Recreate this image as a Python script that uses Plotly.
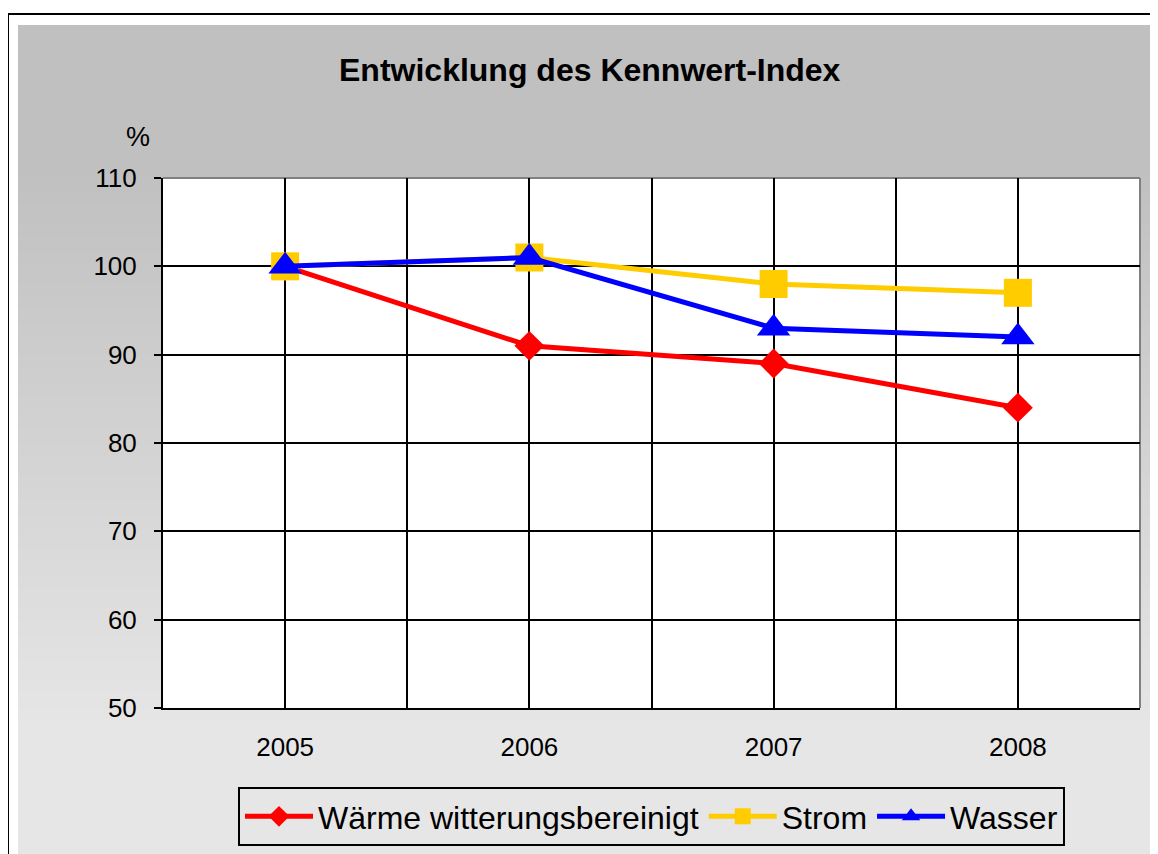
import plotly.graph_objects as go

years = ["2005", "2006", "2007", "2008"]
waerme = [100, 91, 89, 84]
strom = [100, 101, 98, 97]
wasser = [100, 101, 93, 92]
y_ticks = [50, 60, 70, 80, 90, 100, 110]

OFF = 8  # browser body margin
W, H = 1158 - OFF, 854 - OFF
L, R, T, B = 163, 1140, 178, 708  # plot area in screen pixels

def px(x):
    return (x - L) / (R - L)

def py(y):
    return (B - y) / (B - T)

FONT = "Liberation Sans, Arial, sans-serif"
xs = list(range(len(years)))

fig = go.Figure()
fig.add_trace(go.Scatter(x=xs, y=waerme, name="Wärme witterungsbereinigt", mode="lines+markers",
                         line=dict(color="#ff0000", width=5),
                         marker=dict(symbol="diamond", size=23, color="#ff0000", line=dict(width=0))))
fig.add_trace(go.Scatter(x=xs, y=strom, name="Strom", mode="lines+markers",
                         line=dict(color="#ffcc00", width=5),
                         marker=dict(symbol="square", size=28, color="#ffcc00", line=dict(width=0))))
fig.add_trace(go.Scatter(x=xs, y=wasser, name="Wasser", mode="lines+markers",
                         line=dict(color="#0000ff", width=5),
                         marker=dict(symbol="triangle-up", size=29, color="#0000ff", line=dict(width=0))))

shapes = []
# gradient background bands
y0, y1 = 25, 860
step = 6
yy = y0
while yy < y1:
    mid = yy + step / 2
    if mid < 170:
        c = 192
    elif mid > 730:
        c = 230
    else:
        c = 192 + (230 - 192) * (mid - 170) / (730 - 170)
    c = int(round(c))
    shapes.append(dict(type="rect", xref="paper", yref="paper", layer="below",
                       x0=px(18), x1=px(1170), y0=py(yy + step + 0.5), y1=py(yy),
                       fillcolor=f"rgb({c},{c},{c})", line=dict(width=0)))
    yy += step
# white plot area
shapes.append(dict(type="rect", xref="paper", yref="paper", layer="below",
                   x0=0, x1=1, y0=0, y1=1, fillcolor="white", line=dict(width=0)))
# outer border
shapes.append(dict(type="line", xref="paper", yref="paper", x0=px(8), x1=px(8),
                   y0=py(14), y1=py(900), line=dict(color="black", width=2)))
shapes.append(dict(type="line", xref="paper", yref="paper", x0=px(8), x1=px(1170),
                   y0=py(14), y1=py(14), line=dict(color="black", width=2)))
# grey top/right border of plot area
shapes.append(dict(type="line", xref="paper", yref="paper", x0=0, x1=1, y0=1, y1=1,
                   line=dict(color="#808080", width=2), layer="below"))
shapes.append(dict(type="line", xref="paper", yref="paper", x0=1, x1=1, y0=0, y1=1,
                   line=dict(color="#808080", width=2), layer="below"))

fig.update_layout(
    width=W, height=H,
    margin=dict(l=L - OFF, r=W - (R - OFF), t=T - OFF, b=H - (B - OFF), autoexpand=False),
    paper_bgcolor="white", plot_bgcolor="white",
    font=dict(family=FONT, color="black"),
    shapes=shapes,
    showlegend=True,
    legend=dict(orientation="h", x=0.5, xanchor="center",
                yref="container", y=(H - (787 - OFF)) / H, yanchor="top",
                font=dict(size=32, family=FONT, color="black"),
                bgcolor="rgba(0,0,0,0)", bordercolor="black", borderwidth=2,
                itemwidth=68, traceorder="normal"),
    annotations=[
        dict(text="<b>Entwicklung des Kennwert-Index</b>", xref="paper", yref="paper",
             x=px(590), y=py(70), xanchor="center", yanchor="middle", showarrow=False,
             font=dict(size=32, family=FONT, color="black")),
        dict(text="%", xref="paper", yref="paper", x=px(138), y=py(137),
             xanchor="center", yanchor="middle", showarrow=False,
             font=dict(size=27, family=FONT, color="black")),
    ],
)

fig.update_xaxes(range=[-0.5, 3.5], tickvals=xs, ticktext=years, ticks="",
                 showgrid=True, gridcolor="black", gridwidth=2,
                 minor=dict(tickvals=[0.5, 1.5, 2.5], showgrid=True, gridcolor="black", gridwidth=2),
                 showline=True, linecolor="black", linewidth=2, zeroline=False,
                 tickfont=dict(size=26, family=FONT, color="black"),
                 ticklabelstandoff=15, fixedrange=True, automargin=False)
fig.update_yaxes(range=[50, 110], tickvals=y_ticks, ticks="outside", ticklen=7,
                 tickwidth=2, tickcolor="black",
                 showgrid=True, gridcolor="black", gridwidth=2,
                 showline=True, linecolor="black", linewidth=2, zeroline=False,
                 tickfont=dict(size=26, family=FONT, color="black"),
                 ticklabelstandoff=12, fixedrange=True, automargin=False)

fig.write_html("out.html", config={"displayModeBar": False})
